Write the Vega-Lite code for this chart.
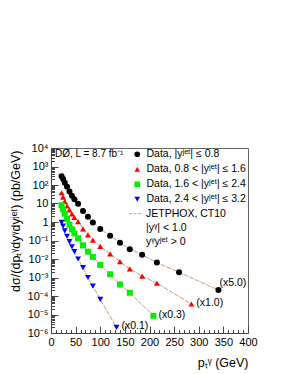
{
  "$schema": "https://vega.github.io/schema/vega-lite/v6.json",
  "width": 197,
  "height": 185,
  "autosize": {"type": "none"},
  "padding": {"left": 51, "top": 148, "right": 41, "bottom": 41},
  "background": "white",
  "config": {
    "view": {"stroke": "#666", "strokeWidth": 1},
    "font": "Liberation Sans",
    "axis": {"grid": false, "domainColor": "#444", "tickColor": "#444", "labelColor": "#000", "titleColor": "#000", "labelFont": "Liberation Sans", "titleFont": "Liberation Sans", "titleFontWeight": "normal", "labelFontSize": 11, "titleFontSize": 12.5},
    "legend": {"labelFont": "Liberation Sans", "labelFontSize": 10.5, "labelFontWeight": "normal", "labelColor": "#000", "padding": 0, "offset": 0}
  },
  "datasets": {
    "pts": [
      {"series": "Data, |yʲᵉᵗ| ≤ 0.8", "pt": 21.5, "xs": 300},
      {"series": "Data, |yʲᵉᵗ| ≤ 0.8", "pt": 24.5, "xs": 210},
      {"series": "Data, |yʲᵉᵗ| ≤ 0.8", "pt": 28, "xs": 133},
      {"series": "Data, |yʲᵉᵗ| ≤ 0.8", "pt": 32.5, "xs": 81},
      {"series": "Data, |yʲᵉᵗ| ≤ 0.8", "pt": 37.5, "xs": 44},
      {"series": "Data, |yʲᵉᵗ| ≤ 0.8", "pt": 42.5, "xs": 26},
      {"series": "Data, |yʲᵉᵗ| ≤ 0.8", "pt": 47.5, "xs": 17},
      {"series": "Data, |yʲᵉᵗ| ≤ 0.8", "pt": 55, "xs": 9.8},
      {"series": "Data, |yʲᵉᵗ| ≤ 0.8", "pt": 65, "xs": 3.9},
      {"series": "Data, |yʲᵉᵗ| ≤ 0.8", "pt": 75, "xs": 1.95},
      {"series": "Data, |yʲᵉᵗ| ≤ 0.8", "pt": 85, "xs": 0.95},
      {"series": "Data, |yʲᵉᵗ| ≤ 0.8", "pt": 100, "xs": 0.42},
      {"series": "Data, |yʲᵉᵗ| ≤ 0.8", "pt": 120, "xs": 0.18},
      {"series": "Data, |yʲᵉᵗ| ≤ 0.8", "pt": 140, "xs": 0.076},
      {"series": "Data, |yʲᵉᵗ| ≤ 0.8", "pt": 160, "xs": 0.034},
      {"series": "Data, |yʲᵉᵗ| ≤ 0.8", "pt": 185, "xs": 0.017},
      {"series": "Data, |yʲᵉᵗ| ≤ 0.8", "pt": 215, "xs": 0.0064},
      {"series": "Data, |yʲᵉᵗ| ≤ 0.8", "pt": 260, "xs": 0.0019},
      {"series": "Data, |yʲᵉᵗ| ≤ 0.8", "pt": 340, "xs": 0.00021, "note": "(x5.0)"},
      {"series": "Data, 0.8 < |yʲᵉᵗ| ≤ 1.6", "pt": 21.5, "xs": 38},
      {"series": "Data, 0.8 < |yʲᵉᵗ| ≤ 1.6", "pt": 24.5, "xs": 22},
      {"series": "Data, 0.8 < |yʲᵉᵗ| ≤ 1.6", "pt": 28, "xs": 13},
      {"series": "Data, 0.8 < |yʲᵉᵗ| ≤ 1.6", "pt": 32.5, "xs": 7.5},
      {"series": "Data, 0.8 < |yʲᵉᵗ| ≤ 1.6", "pt": 37.5, "xs": 4.5},
      {"series": "Data, 0.8 < |yʲᵉᵗ| ≤ 1.6", "pt": 42.5, "xs": 2.7},
      {"series": "Data, 0.8 < |yʲᵉᵗ| ≤ 1.6", "pt": 47.5, "xs": 1.8},
      {"series": "Data, 0.8 < |yʲᵉᵗ| ≤ 1.6", "pt": 55, "xs": 1.05},
      {"series": "Data, 0.8 < |yʲᵉᵗ| ≤ 1.6", "pt": 65, "xs": 0.42},
      {"series": "Data, 0.8 < |yʲᵉᵗ| ≤ 1.6", "pt": 75, "xs": 0.2},
      {"series": "Data, 0.8 < |yʲᵉᵗ| ≤ 1.6", "pt": 85, "xs": 0.105},
      {"series": "Data, 0.8 < |yʲᵉᵗ| ≤ 1.6", "pt": 100, "xs": 0.048},
      {"series": "Data, 0.8 < |yʲᵉᵗ| ≤ 1.6", "pt": 120, "xs": 0.019},
      {"series": "Data, 0.8 < |yʲᵉᵗ| ≤ 1.6", "pt": 140, "xs": 0.0072},
      {"series": "Data, 0.8 < |yʲᵉᵗ| ≤ 1.6", "pt": 160, "xs": 0.0029},
      {"series": "Data, 0.8 < |yʲᵉᵗ| ≤ 1.6", "pt": 185, "xs": 0.0012},
      {"series": "Data, 0.8 < |yʲᵉᵗ| ≤ 1.6", "pt": 215, "xs": 0.0005},
      {"series": "Data, 0.8 < |yʲᵉᵗ| ≤ 1.6", "pt": 285, "xs": 0.000037, "note": "(x1.0)"},
      {"series": "Data, 1.6 < |yʲᵉᵗ| ≤ 2.4", "pt": 21.5, "xs": 8},
      {"series": "Data, 1.6 < |yʲᵉᵗ| ≤ 2.4", "pt": 24.5, "xs": 4.9},
      {"series": "Data, 1.6 < |yʲᵉᵗ| ≤ 2.4", "pt": 28, "xs": 2.8},
      {"series": "Data, 1.6 < |yʲᵉᵗ| ≤ 2.4", "pt": 32.5, "xs": 1.45},
      {"series": "Data, 1.6 < |yʲᵉᵗ| ≤ 2.4", "pt": 37.5, "xs": 0.72},
      {"series": "Data, 1.6 < |yʲᵉᵗ| ≤ 2.4", "pt": 42.5, "xs": 0.4},
      {"series": "Data, 1.6 < |yʲᵉᵗ| ≤ 2.4", "pt": 47.5, "xs": 0.24},
      {"series": "Data, 1.6 < |yʲᵉᵗ| ≤ 2.4", "pt": 55, "xs": 0.13},
      {"series": "Data, 1.6 < |yʲᵉᵗ| ≤ 2.4", "pt": 65, "xs": 0.055},
      {"series": "Data, 1.6 < |yʲᵉᵗ| ≤ 2.4", "pt": 75, "xs": 0.025},
      {"series": "Data, 1.6 < |yʲᵉᵗ| ≤ 2.4", "pt": 85, "xs": 0.013},
      {"series": "Data, 1.6 < |yʲᵉᵗ| ≤ 2.4", "pt": 100, "xs": 0.0048},
      {"series": "Data, 1.6 < |yʲᵉᵗ| ≤ 2.4", "pt": 120, "xs": 0.0015},
      {"series": "Data, 1.6 < |yʲᵉᵗ| ≤ 2.4", "pt": 140, "xs": 0.00042},
      {"series": "Data, 1.6 < |yʲᵉᵗ| ≤ 2.4", "pt": 160, "xs": 0.00015},
      {"series": "Data, 1.6 < |yʲᵉᵗ| ≤ 2.4", "pt": 208, "xs": 0.0000085, "note": "(x0.3)"},
      {"series": "Data, 2.4 < |yʲᵉᵗ| ≤ 3.2", "pt": 21.5, "xs": 0.95},
      {"series": "Data, 2.4 < |yʲᵉᵗ| ≤ 3.2", "pt": 24.5, "xs": 0.6},
      {"series": "Data, 2.4 < |yʲᵉᵗ| ≤ 3.2", "pt": 28, "xs": 0.33},
      {"series": "Data, 2.4 < |yʲᵉᵗ| ≤ 3.2", "pt": 32.5, "xs": 0.17},
      {"series": "Data, 2.4 < |yʲᵉᵗ| ≤ 3.2", "pt": 37.5, "xs": 0.087},
      {"series": "Data, 2.4 < |yʲᵉᵗ| ≤ 3.2", "pt": 42.5, "xs": 0.046},
      {"series": "Data, 2.4 < |yʲᵉᵗ| ≤ 3.2", "pt": 47.5, "xs": 0.025},
      {"series": "Data, 2.4 < |yʲᵉᵗ| ≤ 3.2", "pt": 55, "xs": 0.01},
      {"series": "Data, 2.4 < |yʲᵉᵗ| ≤ 3.2", "pt": 65, "xs": 0.0034},
      {"series": "Data, 2.4 < |yʲᵉᵗ| ≤ 3.2", "pt": 75, "xs": 0.001},
      {"series": "Data, 2.4 < |yʲᵉᵗ| ≤ 3.2", "pt": 85, "xs": 0.00034},
      {"series": "Data, 2.4 < |yʲᵉᵗ| ≤ 3.2", "pt": 100, "xs": 0.000066},
      {"series": "Data, 2.4 < |yʲᵉᵗ| ≤ 3.2", "pt": 133, "xs": 0.000002, "note": "(x0.1)"}
    ],
    "tag": [{"pt": 8, "xs": 4700, "text": "DØ, L = 8.7 fb⁻¹"}]
  },
  "encoding": {
    "x": {
      "field": "pt", "type": "quantitative",
      "scale": {"domain": [0, 400], "nice": false, "zero": false},
      "axis": {
        "values": [0,10,20,30,40,50,60,70,80,90,100,110,120,130,140,150,160,170,180,190,200,210,220,230,240,250,260,270,280,290,300,310,320,330,340,350,360,370,380,390,400],
        "labelExpr": "datum.value % 50 == 0 ? datum.label : ''",
        "tickSize": {"condition": {"test": "datum.value % 50 == 0", "value": -7}, "value": -3.5},
        "labelPadding": 10,
        "labelFlush": false,
        "title": "pₜᵞ (GeV)",
        "titleAnchor": "end", "titleAlign": "right", "titleBaseline": "middle",
        "titleX": 197, "titleY": 29
      }
    },
    "y": {
      "field": "xs", "type": "quantitative",
      "scale": {"type": "log", "domain": [0.000001, 10000], "nice": false},
      "axis": {
        "values": [1e-6,2e-6,3e-6,4e-6,5e-6,6e-6,7e-6,8e-6,9e-6,1e-5,2e-5,3e-5,4e-5,5e-5,6e-5,7e-5,8e-5,9e-5,1e-4,2e-4,3e-4,4e-4,5e-4,6e-4,7e-4,8e-4,9e-4,0.001,0.002,0.003,0.004,0.005,0.006,0.007,0.008,0.009,0.01,0.02,0.03,0.04,0.05,0.06,0.07,0.08,0.09,0.1,0.2,0.3,0.4,0.5,0.6,0.7,0.8,0.9,1,2,3,4,5,6,7,8,9,10,20,30,40,50,60,70,80,90,100,200,300,400,500,600,700,800,900,1000,2000,3000,4000,5000,6000,7000,8000,9000,10000],
        "labelExpr": "abs(log(datum.value)/LN10 - round(log(datum.value)/LN10)) > 0.001 ? '' : datum.value == 1 ? '1' : datum.value == 10 ? '10' : '10' + ['⁻⁶','⁻⁵','⁻⁴','⁻³','⁻²','⁻¹','⁰','¹','²','³','⁴'][round(log(datum.value)/LN10)+6]",
        "tickSize": {"condition": {"test": "abs(log(datum.value)/LN10 - round(log(datum.value)/LN10)) < 0.001", "value": -7}, "value": -3.5},
        "labelPadding": 10,
        "labelFlush": false,
        "labelOverlap": false,
        "title": "dσ/(dpₜᵞdyᵞdyʲᵉᵗ) (pb/GeV)",
        "titleAnchor": "end", "titleAlign": "right", "titleBaseline": "middle", "titleAngle": -90,
        "titleX": -36, "titleY": 2
      }
    }
  },
  "layer": [
    {
      "data": {"name": "pts"},
      "mark": {"type": "line", "strokeDash": [5, 1.2], "strokeWidth": 1},
      "encoding": {
        "detail": {"field": "series"},
        "color": {
          "datum": "JETPHOX, CT10",
          "scale": {"domain": ["JETPHOX, CT10", "|yᵞ| < 1.0", "yᵞyʲᵉᵗ > 0"], "range": ["#c4a07c", "transparent", "transparent"]},
          "legend": {"title": null, "orient": "none", "legendX": 77, "legendY": 59, "symbolType": "stroke", "symbolSize": 196, "symbolDash": [3, 1.5], "symbolStrokeWidth": 1.2, "clipHeight": 13.5, "rowPadding": 0, "labelOffset": 2}
        }
      }
    },
    {
      "data": {"name": "pts"},
      "mark": {"type": "point", "filled": true, "opacity": 1, "size": 36},
      "encoding": {
        "color": {
          "field": "series", "type": "nominal",
          "scale": {"domain": ["Data, |yʲᵉᵗ| ≤ 0.8", "Data, 0.8 < |yʲᵉᵗ| ≤ 1.6", "Data, 1.6 < |yʲᵉᵗ| ≤ 2.4", "Data, 2.4 < |yʲᵉᵗ| ≤ 3.2"], "range": ["#000000", "#ff0000", "#00ee00", "#0000ff"]},
          "legend": {"title": null, "orient": "none", "legendX": 81, "legendY": -1, "symbolSize": 32, "symbolStrokeWidth": 0, "clipHeight": 14.5, "rowPadding": 0, "labelOffset": 4}
        },
        "shape": {
          "field": "series", "type": "nominal",
          "scale": {"domain": ["Data, |yʲᵉᵗ| ≤ 0.8", "Data, 0.8 < |yʲᵉᵗ| ≤ 1.6", "Data, 1.6 < |yʲᵉᵗ| ≤ 2.4", "Data, 2.4 < |yʲᵉᵗ| ≤ 3.2"], "range": ["circle", "triangle-up", "square", "triangle-down"]},
          "legend": {"title": null, "orient": "none", "legendX": 81, "legendY": -1, "symbolSize": 32, "symbolStrokeWidth": 0, "clipHeight": 14.5, "rowPadding": 0, "labelOffset": 4}
        }
      }
    },
    {
      "data": {"name": "pts"},
      "transform": [{"filter": "datum.note && datum.note != '(x5.0)'"}],
      "mark": {"type": "text", "align": "left", "baseline": "middle", "dx": 5, "dy": -1, "fontSize": 10.5, "color": "#000"},
      "encoding": {"text": {"field": "note"}}
    },
    {
      "data": {"name": "pts"},
      "transform": [{"filter": "datum.note == '(x5.0)'"}],
      "mark": {"type": "text", "align": "left", "baseline": "middle", "dx": 1, "dy": -7, "fontSize": 10.5, "color": "#000"},
      "encoding": {"text": {"field": "note"}}
    },
    {
      "data": {"name": "tag"},
      "mark": {"type": "text", "align": "left", "baseline": "middle", "fontSize": 10, "color": "#000"},
      "encoding": {"text": {"field": "text"}}
    }
  ],
  "resolve": {"scale": {"color": "independent", "shape": "independent"}, "legend": {"color": "independent", "shape": "independent"}}
}
